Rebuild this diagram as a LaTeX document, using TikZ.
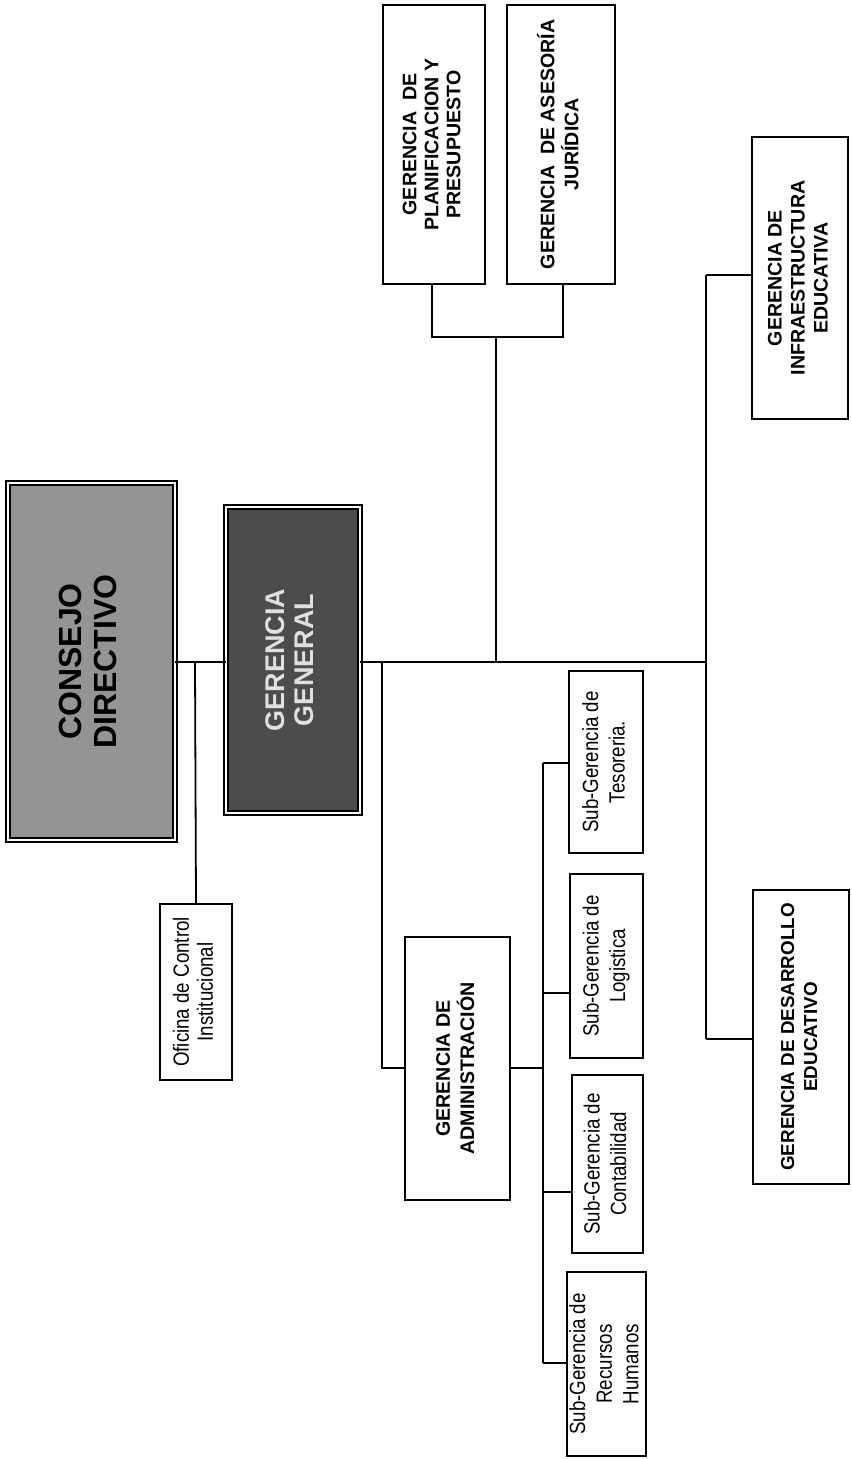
\documentclass[tikz,border=0pt]{standalone}
\usepackage{fontspec}
\setmainfont{Liberation Sans}
\newfontfamily\nar[FakeStretch=0.85]{Liberation Sans}
\newcommand{\rtxt}[3]{\rotatebox{90}{\fontsize{#1}{#2}\selectfont\begin{tabular}{@{}c@{}}#3\end{tabular}}}
\begin{document}
\begin{tikzpicture}[x=0.5pt,y=-0.5pt,
  box/.style={draw=black,line width=1pt,fill=white,inner sep=0pt,outer sep=0pt},
  subbox/.style={box,font=\nar},
  gbox/.style={box,font=\bfseries},
  link/.style={draw=black,line width=0.9pt},
  framed/.style={draw=black,line width=0.9pt,double=white,double distance=1.4pt,inner sep=0pt,outer sep=0pt}]
\useasboundingbox (0,0) rectangle (851,1459);

% top level
\node[framed,fill=black!42,minimum width=83.5pt,minimum height=178.5pt] (cd) at (91.5,661.5)
  {\rtxt{16}{17.5}{\bfseries CONSEJO\\ \bfseries DIRECTIVO}};
\node[framed,fill=black!70,minimum width=67pt,minimum height=153pt] (gg) at (293,660)
  {\color{black!12}\rtxt{13.5}{14.5}{\bfseries GERENCIA\\ \bfseries GENERAL}};

\node[subbox,minimum width=36pt,minimum height=88pt] (oci) at (196,992)
  {\rtxt{11}{12}{Oficina de Control\\Institucional}};

% staff
\node[gbox,minimum width=51pt,minimum height=139.5pt] (plan) at (434,144.5)
  {\rtxt{9.8}{11}{\bfseries GERENCIA \ DE\\ \bfseries PLANIFICACION Y\\ \bfseries PRESUPUESTO}};
\node[gbox,minimum width=54pt,minimum height=139.5pt] (ase) at (561,144.5)
  {\rtxt{9.8}{11}{\bfseries GERENCIA \ DE ASESOR\'IA\\ \bfseries JUR\'IDICA}};

% line gerencias
\node[gbox,minimum width=52.5pt,minimum height=131.5pt] (adm) at (457.5,1068.5)
  {\rtxt{9.8}{11.5}{\bfseries GERENCIA DE\\ \bfseries ADMINISTRACI\'ON}};
\node[gbox,minimum width=48pt,minimum height=141pt] (inf) at (800,278)
  {\rtxt{9.8}{11.5}{\bfseries GERENCIA DE\\ \bfseries INFRAESTRUCTURA\\ \bfseries EDUCATIVA}};
\node[gbox,minimum width=48pt,minimum height=147pt] (des) at (801,1037)
  {\rtxt{9.4}{11.5}{\bfseries GERENCIA DE DESARROLLO\\ \bfseries EDUCATIVO}};

% sub-gerencias
\node[subbox,minimum width=37pt,minimum height=91pt] (tes) at (606,762)
  {\rtxt{11}{13.3}{Sub-Gerencia de\\Tesoreria.}};
\node[subbox,minimum width=36.5pt,minimum height=92pt] (log) at (606.5,966)
  {\rtxt{11}{13.3}{Sub-Gerencia de\\Logistica}};
\node[subbox,minimum width=35.5pt,minimum height=89pt] (con) at (607.5,1164)
  {\rtxt{11}{13.3}{Sub-Gerencia de\\Contabilidad}};
\node[subbox,minimum width=36.5pt,minimum height=92pt] (rrh) at (606.5,1364)
  {\rtxt{11}{13.3}{Sub-Gerencia de\\Recursos\\Humanos}};

% junction coordinates
\coordinate (m1) at (195,662);
\coordinate (m2) at (382,662);
\coordinate (m3) at (496,662);
\coordinate (m4) at (706,662);
\coordinate (pb) at (496,337);
\coordinate (ab) at (382,1068);
\coordinate (sb) at (543,1068);
\coordinate (b1) at (543,763);
\coordinate (b2) at (543,993);
\coordinate (b3) at (543,1192);
\coordinate (b4) at (543,1363);
\coordinate (ib) at (706,275);
\coordinate (db) at (706,1039);

% connectors
\draw[link] (cd.east |- m1) -- (gg.west |- m1);
\draw[link] (gg.east |- m1) -- (m4);
\draw[link] (m1) -- (oci.north);
\draw[link] ([xshift=-1pt]plan.south) |- (pb) -| ([xshift=1pt]ase.south);
\draw[link] (pb) -- (m3);
\draw[link] (m2) -- (ab) -- (adm.west |- ab);
\draw[link] (adm.east |- sb) -- (sb);
\draw[link] (b1) -- (b4);
\draw[link] (b1) -- (tes.west |- b1);
\draw[link] (b2) -- (log.west |- b2);
\draw[link] (b3) -- (con.west |- b3);
\draw[link] (b4) -- (rrh.west |- b4);
\draw[link] (ib) -- (db);
\draw[link] (ib) -- (inf.west |- ib);
\draw[link] (db) -- (des.west |- db);
\end{tikzpicture}
\end{document}
